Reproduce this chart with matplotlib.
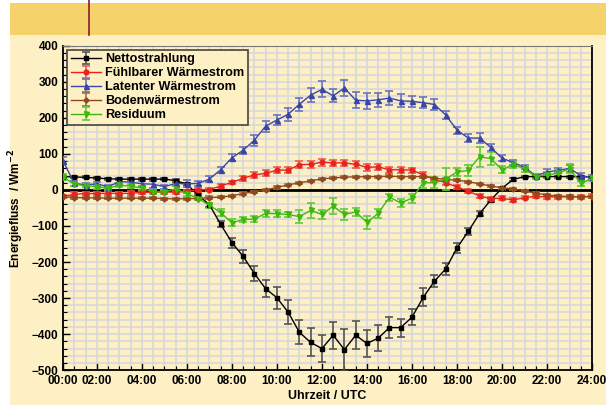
import numpy as np
import matplotlib.pyplot as plt
from matplotlib.patches import Rectangle
from matplotlib.ticker import MultipleLocator

plt.rcParams['font.family'] = ['Liberation Sans', 'DejaVu Sans']
plt.rcParams['font.weight'] = 'bold'

# Halbstundenwerte 00:30 ... 24:00
stunden = np.arange(1, 49) * 0.5

netto = [37, 36, 35, 33, 31, 30, 30, 30, 30, 30, 26, 16,
         -14, -41, -95, -146, -184, -232, -274, -299, -339, -395, -423, -440,
         -403, -443, -403, -426, -411, -382, -382, -353, -298, -253, -219, -161,
         -115, -66, -28, 5, 29, 37, 37, 37, 37, 37, 37, 36]
netto_err = [3, 3, 3, 3, 3, 3, 3, 3, 3, 3, 3, 3,
             4, 5, 8, 14, 18, 22, 24, 30, 33, 33, 39, 37,
             38, 58, 39, 37, 36, 30, 25, 22, 25, 16, 17, 15,
             9, 7, 5, 4, 3, 3, 3, 3, 3, 3, 3, 3]

fuehlbar = [-18, -12, -10, -10, -9, -10, -9, -7, -6, -6, -6, -4,
            0, 1, 11, 21, 32, 42, 46, 55, 55, 70, 71, 77,
            75, 75, 71, 63, 64, 56, 56, 55, 42, 30, 20, 8,
            -3, -17, -24, -23, -28, -21, -18, -19, -19, -19, -19, -17]
fuehlbar_err = [5, 5, 5, 5, 5, 5, 5, 5, 5, 5, 5, 5,
                5, 5, 5, 5, 7, 8, 8, 9, 9, 9, 10, 10,
                9, 9, 9, 10, 9, 8, 9, 7, 7, 6, 5, 5,
                5, 5, 5, 5, 5, 5, 5, 5, 5, 5, 5, 5]

latent = [81, 18, 14, 17, 9, 23, 22, 17, 16, 9, 18, 17,
          18, 30, 56, 89, 110, 138, 177, 194, 210, 238, 263, 279,
          261, 283, 249, 247, 250, 255, 247, 246, 242, 237, 208, 166,
          144, 144, 118, 88, 76, 63, 39, 50, 54, 60, 39, 35]
latent_err = [10, 6, 6, 6, 6, 8, 8, 7, 10, 6, 8, 10,
              8, 8, 8, 10, 10, 15, 15, 15, 18, 18, 20, 22,
              18, 22, 22, 22, 20, 20, 18, 15, 15, 15, 12, 10,
              12, 15, 10, 8, 6, 6, 6, 8, 8, 10, 8, 6]

boden = [-19, -21, -22, -22, -23, -23, -23, -23, -23, -24, -25, -24,
         -24, -21, -20, -16, -10, -5, 0, 7, 14, 20, 25, 31,
         33, 36, 36, 37, 37, 38, 37, 37, 37, 33, 29, 27,
         23, 17, 11, 6, 3, -3, -9, -14, -17, -18, -19, -19]
boden_err = [3] * 48

residuum = [36, 16, 12, 9, 5, 13, 11, 5, -6, -5, 3, -10,
            -24, -42, -63, -91, -82, -81, -65, -66, -68, -74, -57, -68,
            -45, -68, -61, -90, -65, -20, -36, -23, 20, 20, 30, 50,
            54, 92, 87, 56, 70, 59, 37, 42, 46, 59, 18, 32]
residuum_err = [8, 5, 5, 5, 5, 6, 6, 6, 6, 6, 8, 6,
                5, 7, 10, 10, 8, 8, 10, 10, 8, 18, 20, 12,
                22, 15, 12, 18, 12, 10, 12, 12, 15, 15, 30, 12,
                15, 27, 18, 10, 8, 8, 8, 8, 10, 12, 8, 6]

x_ticks = [0.5, 2, 4, 6, 8, 10, 12, 14, 16, 18, 20, 22, 24]
x_labels = ['00:00', '02:00', '04:00', '06:00', '08:00', '10:00', '12:00',
            '14:00', '16:00', '18:00', '20:00', '22:00', '24:00']

creme = '#FDF0C4'

fig = plt.figure(figsize=(6.06, 4.05), dpi=100)
fig.patch.set_facecolor('white')
fig.patches.append(Rectangle((0.017, 0), 0.983, 0.914, transform=fig.transFigure,
                             facecolor=creme, edgecolor='none', zorder=-2))
fig.patches.append(Rectangle((0.016, 0.914), 0.984, 0.079, transform=fig.transFigure,
                             facecolor='#F6D36A', edgecolor='none', zorder=-2))
fig.lines.append(plt.Line2D([0.147, 0.147], [0.914, 1.0], transform=fig.transFigure,
                            color='#8B1A2B', lw=1.2))

ax = fig.add_axes([0.104, 0.086, 0.873, 0.801])
ax.set_facecolor(creme)

reihen = [
    (netto, netto_err, 'Nettostrahlung', '#000000', '#555555', 's', 3.2),
    (fuehlbar, fuehlbar_err, 'Fühlbarer Wärmestrom', '#E8231B', '#EE5A50', 'o', 3.4),
    (latent, latent_err, 'Latenter Wärmestrom', '#3A46A6', '#6A74BC', '^', 3.6),
    (boden, boden_err, 'Bodenwärmestrom', '#8E4A1C', '#A96A40', 'D', 2.6),
    (residuum, residuum_err, 'Residuum', '#3DB90E', '#5FCB38', 'v', 3.6),
]
for werte, fehler, name, farbe, efarbe, marker, ms in reihen:
    ax.errorbar(stunden, werte, yerr=fehler, color=farbe, ecolor=efarbe,
                marker=marker, markersize=ms, lw=1.0, elinewidth=1.2,
                capsize=3, capthick=1.2, label=name, zorder=3)

ax.axhline(0, color='black', lw=2, zorder=2)

ax.set_xlim(0.5, 24)
ax.set_ylim(-500, 400)
ax.set_xticks(x_ticks)
ax.set_xticklabels(x_labels)
ax.xaxis.set_minor_locator(MultipleLocator(0.5))
ax.yaxis.set_major_locator(MultipleLocator(100))
ax.yaxis.set_minor_locator(MultipleLocator(20))
ax.grid(True, which='both', color='#D6D7DE', lw=1.1, zorder=0)
ax.set_axisbelow(True)
ax.tick_params(which='both', direction='in', labelsize=8.5, top=False, right=False)
ax.tick_params(which='major', length=5, width=1)
ax.tick_params(which='minor', length=3, width=0.8)
for s in ['left', 'bottom', 'right']:
    ax.spines[s].set_color('black')
    ax.spines[s].set_linewidth(1.3)
ax.spines['top'].set_color('#777777')

ax.set_xlabel('Uhrzeit / UTC', fontsize=9, fontweight='bold', labelpad=2)
ax.set_ylabel('Energiefluss  / Wm$^{\\mathbf{-2}}$', fontsize=8.5, fontweight='bold', labelpad=4)

leg = ax.legend(loc='upper left', fontsize=9.1, frameon=True, fancybox=False,
                facecolor=creme, edgecolor='#444444', framealpha=1,
                handlelength=2.4, handletextpad=0.3, labelspacing=0.15,
                borderpad=0.3, borderaxespad=0.3)
leg.get_frame().set_linewidth(1.2)

fig.savefig('out.png', dpi=100, facecolor=fig.get_facecolor())
